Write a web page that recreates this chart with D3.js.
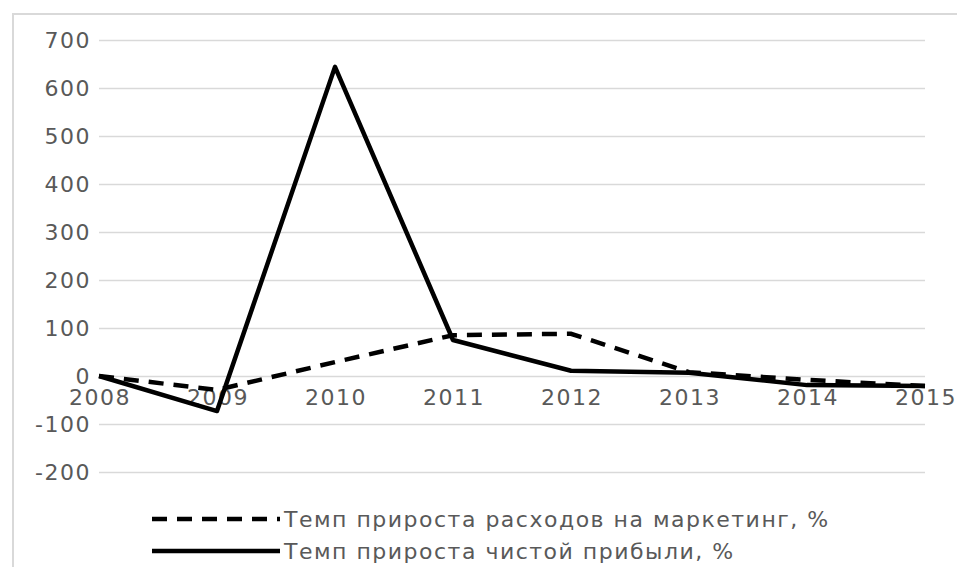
<!DOCTYPE html>
<html>
<head>
<meta charset="utf-8">
<script src="https://cdn.jsdelivr.net/npm/d3@7"></script>
<style>
  body { margin: 0; background: #fff; }
  text { font-family: "DejaVu Sans", sans-serif; fill: #595959; letter-spacing: 1.5px; }
</style>
</head>
<body>
<main></main>
<script>
const width = 957;
const height = 567;

const years = ["2008", "2009", "2010", "2011", "2012", "2013", "2014", "2015"];
const marketingGrowth = [0, -29, 29, 85, 88, 8, -8, -21];
const profitGrowth = [0, -73, 644, 75, 11, 7, -19, -21];
const yTicks = [-200, -100, 0, 100, 200, 300, 400, 500, 600, 700];
const seriesNames = ["Темп прироста расходов на маркетинг, %", "Темп прироста чистой прибыли, %"];

const svg = d3.select("main")
              .append("svg")
              .attr("width", width)
              .attr("height", height);

// chart frame
svg.append("rect")
   .attr("x", 13)
   .attr("y", 14)
   .attr("width", width + 20)
   .attr("height", height + 20)
   .attr("fill", "none")
   .attr("stroke", "#d9d9d9")
   .attr("stroke-width", 2);

const xScale = d3.scalePoint()
                 .domain(years)
                 .range([99, 925]);
const yScale = d3.scaleLinear()
                 .domain([-200, 700])
                 .range([472, 40]);

// gridlines
svg.append("g")
   .attr("transform", "translate(99,0)")
   .call(d3.axisLeft(yScale).tickValues(yTicks).tickSize(-826).tickFormat(""))
   .call(g => g.select(".domain").remove())
   .call(g => g.selectAll("line").attr("stroke", "#d9d9d9").attr("stroke-width", 1.5));

// y labels
svg.append("g")
   .selectAll("text")
   .data(yTicks)
   .enter()
   .append("text")
   .attr("x", 91)
   .attr("y", d => yScale(d))
   .attr("dy", "0.36em")
   .attr("text-anchor", "end")
   .attr("font-size", 22)
   .text(d => String(d));

// x labels below zero line
svg.append("g")
   .selectAll("text")
   .data(years)
   .enter()
   .append("text")
   .attr("x", d => xScale(d) + 1)
   .attr("y", yScale(0) + 29)
   .attr("text-anchor", "middle")
   .attr("font-size", 22)
   .text(d => d);

const line = d3.line()
               .x((d, i) => xScale(years[i]))
               .y(d => yScale(d));

svg.append("path")
   .datum(marketingGrowth)
   .attr("d", line)
   .attr("fill", "none")
   .attr("stroke", "#000")
   .attr("stroke-width", 4.5)
   .attr("stroke-dasharray", "15,10");

svg.append("path")
   .datum(profitGrowth)
   .attr("d", line)
   .attr("fill", "none")
   .attr("stroke", "#000")
   .attr("stroke-width", 4.5)
   .attr("stroke-linejoin", "round");

// legend
const legend = svg.append("g");
[0, 1].forEach(i => {
    const y = 519 + i * 32;
    legend.append("line")
          .attr("x1", 152)
          .attr("x2", 280)
          .attr("y1", y)
          .attr("y2", y)
          .attr("stroke", "#000")
          .attr("stroke-width", 4.5)
          .attr("stroke-dasharray", i === 0 ? "15,10" : null);
    legend.append("text")
          .attr("x", 284)
          .attr("y", y)
          .attr("dy", "0.36em")
          .attr("font-size", 22)
          .text(seriesNames[i]);
});
</script>
</body>
</html>
